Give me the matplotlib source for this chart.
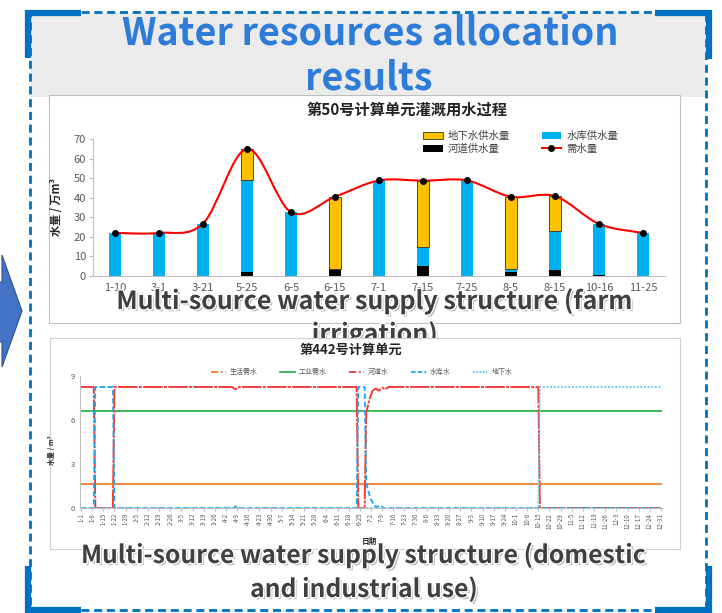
"""
Slide recreation: water resources allocation results
(irrigation supply of unit 50, daily domestic/industrial supply of unit 442).
"""

import numpy as np
import pandas as pd
import matplotlib
matplotlib.use('Agg')
import matplotlib.pyplot as plt
import matplotlib.patheffects as pe
from matplotlib.patches import Rectangle, Polygon, Patch, PathPatch
from matplotlib.lines import Line2D
from matplotlib.path import Path

plt.rcParams['font.family'] = ['Noto Sans CJK SC', 'DejaVu Sans']

# --- chart 1: irrigation water of unit 50 (万m3) ---
periods = ['1-10', '3-1', '3-21', '5-25', '6-5', '6-15', '7-1',
           '7-15', '7-25', '8-5', '8-15', '10-16', '11-25']
river_supply = [0, 0, 0, 2.2, 0, 3.5, 0, 5.0, 0, 2.2, 2.9, 0.4, 0]
reservoir_supply = [22, 22, 26.6, 46.6, 32.6, 0, 48.7, 9.7, 48.7, 1.2, 20.3, 26.2, 22]
ground_supply = [0, 0, 0, 16.2, 0, 37.0, 0, 34.0, 0, 37.1, 17.6, 0, 0]
demand = [22, 22, 26.8, 65, 32.6, 40.5, 48.8, 48.7, 48.8, 40.5, 40.8, 26.6, 22]

# --- chart 2: daily supply of unit 442 (m3), breakpoints of each series ---
demand_dates = ['1-1', '12-31']
domestic_demand = [1.62, 1.62]
industrial_demand = [6.6, 6.6]

river_dates = ['1-1', '1-9', '1-10', '1-21', '1-22', '4-6', '4-7', '4-8', '4-9', '4-10',
               '6-23', '6-24', '6-28', '6-29', '7-1', '7-3', '7-5', '7-7', '7-9',
               '7-11', '7-13', '10-15', '10-16', '12-31']
river_water = [8.25, 8.25, 0, 0, 8.25, 8.25, 8.15, 8.1, 8.15, 8.25,
               8.25, 0, 0, 6.5, 7.4, 8.0, 8.15, 8.0, 8.2,
               8.1, 8.25, 8.25, 0, 0]

reservoir_dates = ['1-1', '1-9', '1-10', '1-21', '1-22', '4-7', '4-8', '4-9',
                   '6-23', '6-24', '6-28', '6-29', '6-30', '7-1', '7-2', '7-3',
                   '7-4', '7-5', '7-6', '7-7', '7-8', '7-9', '7-10', '12-31']
reservoir_water = [0, 0, 8.25, 8.25, 0, 0, 0.12, 0,
                   0, 8.25, 8.25, 1.7, 1.3, 0.9, 0.6, 0.35,
                   0.2, 0.1, 0.05, 0.18, 0.15, 0.05, 0, 0]

ground_dates = ['1-1', '10-15', '10-16', '12-31']
ground_water = [0, 0, 8.25, 8.25]

tick_dates = pd.date_range('2015-01-01', '2015-12-31', freq='7D')
tick_labels = [f'{d.month}-{d.day}' for d in tick_dates]

W, H = 722, 613
FRAME = '#0070C0'


def box(x0, y0, x1, y1):
    # pixel box (y pointing down) -> figure-fraction rect
    return [x0 / W, 1 - y1 / H, (x1 - x0) / W, (y1 - y0) / H]


def day(s):
    m, d = map(int, s.split('-'))
    return pd.Timestamp(2015, m, d).dayofyear - 1


def smooth_path(xs, ys):
    # Excel-like smoothed line: Catmull-Rom segments as cubic beziers
    pts = np.column_stack([xs, ys]).astype(float)
    n = len(pts)
    verts, codes = [pts[0]], [Path.MOVETO]
    for i in range(n - 1):
        p0 = pts[max(i - 1, 0)]
        p1, p2 = pts[i], pts[i + 1]
        p3 = pts[min(i + 2, n - 1)]
        verts += [p1 + (p2 - p0) / 6, p2 - (p3 - p1) / 6, p2]
        codes += [Path.CURVE4] * 3
    return Path(verts, codes)


fig = plt.figure(figsize=(W / 100, H / 100), dpi=100)

# slide background, frame, arrow
bg = fig.add_axes([0, 0, 1, 1])
bg.set_xlim(0, W)
bg.set_ylim(H, 0)
bg.axis('off')
bg.add_patch(Rectangle((31, 13), 674, 84, color='#EBEBEB', lw=0))
bg.add_patch(Rectangle((49, 95), 631, 228, facecolor='white', edgecolor='#BFBFBF', lw=0.8))
bg.plot([30, 706, 706, 30, 30], [12, 12, 610, 610, 12], color=FRAME, lw=2, ls=(0, (2.9, 1.7)))
brackets = [([27.5, 27.5, 81], [58, 12.5, 12.5]),
            ([655, 708.5, 708.5], [12.5, 12.5, 59]),
            ([27.5, 27.5, 81], [566, 609.5, 609.5]),
            ([655, 708.5, 708.5], [609.5, 609.5, 566])]
for bx, by in brackets:
    bg.plot(bx, by, color=FRAME, lw=4.5, solid_joinstyle='miter', solid_capstyle='butt')
bg.add_patch(Polygon([(-10, 282), (2, 282), (2, 255), (22, 311), (2, 367), (2, 342), (-10, 342)],
                     closed=True, facecolor='#4472C4', edgecolor='#2F528F', lw=0.8))
bg.text(370, 46, 'Water resources allocation', ha='center', va='baseline',
        fontsize=27.2, fontweight='bold', color='#2E7CD9')
bg.text(369, 89, 'results', ha='center', va='baseline',
        fontsize=27.2, fontweight='bold', color='#2E7CD9')

# chart 1: stacked supply bars + smoothed demand line
ax1 = fig.add_axes(box(93, 139, 665, 276))
ax1.patch.set_alpha(0)
x = np.arange(len(periods))
river = np.array(river_supply)
reservoir = np.array(reservoir_supply)
ground = np.array(ground_supply)
ax1.bar(x, river, 0.26, color='black', zorder=2)
ax1.bar(x, reservoir, 0.26, bottom=river, color='#00B0F0', zorder=2)
ax1.bar(x, ground, 0.26, bottom=river + reservoir, color='#FFC000', edgecolor='#333333',
        linewidth=[0.6 if g > 0 else 0 for g in ground], zorder=2)
ax1.add_patch(PathPatch(smooth_path(x, demand), fill=False, edgecolor='#FF0000', lw=1.5, zorder=3))
ax1.plot(x, demand, 'o', color='black', ms=4, zorder=4, clip_on=False)
ax1.set_xlim(-0.5, len(periods) - 0.5)
ax1.set_ylim(0, 70)
ax1.set_yticks(range(0, 71, 10))
ax1.set_xticks(x, periods)
ax1.tick_params(axis='y', labelsize=8, labelcolor='#595959', color='#BFBFBF', length=3, pad=2)
ax1.tick_params(axis='x', labelsize=8, labelcolor='#595959', length=0, pad=5)
for s in ['top', 'right']:
    ax1.spines[s].set_visible(False)
for s in ['left', 'bottom']:
    ax1.spines[s].set_color('#BFBFBF')
ax1.set_ylabel('水量 / 万m³', fontsize=8, fontweight='bold', color='#262626')
ax1.yaxis.set_label_coords(-0.052, 0.5)

handles1 = [Patch(facecolor='#FFC000', edgecolor='#333333', lw=0.6),
            Patch(facecolor='black'),
            Patch(facecolor='#00B0F0'),
            Line2D([], [], color='#FF0000', lw=1.5, marker='o', mfc='black', mec='black', ms=4)]
ax1.legend(handles1, ['地下水供水量', '河道供水量', '水库供水量', '需水量'], ncol=2,
           loc='upper left', bbox_to_anchor=(423 / W, 1 - 131 / H), bbox_transform=fig.transFigure,
           frameon=False, fontsize=7.5, handlelength=1.9, handleheight=0.7, handletextpad=0.5,
           columnspacing=3.0, labelspacing=0.25, borderpad=0, borderaxespad=0, labelcolor='#404040')
fig.text(407 / W, 1 - 110 / H, '第50号计算单元灌溉用水过程', ha='center', va='center',
         fontsize=11, fontweight='bold', color='#222222')

cap_fx = [pe.SimplePatchShadow(offset=(1.5, -1.5), shadow_rgbFace='#7f7f7f', alpha=0.55),
          pe.withStroke(linewidth=2, foreground='white')]
cap_kw = dict(ha='center', va='baseline', fontweight='bold', color='#404040', path_effects=cap_fx)
fig.text(375 / W, 1 - 309 / H, 'Multi-source water supply structure (farm',
         fontsize=18, zorder=3, **cap_kw)
fig.text(375 / W, 1 - 342 / H, 'irrigation)', fontsize=18, zorder=3, **cap_kw)

# chart 2: daily supply by source
panel2 = fig.add_axes(box(50, 338, 680, 549), zorder=5)
panel2.set_xticks([])
panel2.set_yticks([])
for s in panel2.spines.values():
    s.set_color('#D0D0D0')
    s.set_linewidth(0.8)

ax2 = fig.add_axes(box(80, 376, 662, 508), zorder=6)
ax2.patch.set_alpha(0)
c_dom, c_ind, c_riv, c_res, c_gw = '#F08030', '#2DB34A', '#F23C3C', '#1AA7E8', '#5BC8F5'
ax2.plot([day(d) for d in demand_dates], domestic_demand, color=c_dom, lw=1.3)
ax2.plot([day(d) for d in demand_dates], industrial_demand, color=c_ind, lw=1.3)
ax2.plot([day(d) for d in river_dates], river_water, color=c_riv, lw=1.4, ls=(0, (10, 0.7, 1.5, 0.7)))
ax2.plot([day(d) for d in reservoir_dates], reservoir_water, color=c_res, lw=1.3, ls=(0, (3, 1.5)))
ax2.plot([day(d) for d in ground_dates], ground_water, color=c_gw, lw=1.3, ls=(0, (1, 1)))
ax2.set_xlim(-0.63, 364.63)
ax2.set_ylim(0, 9)
ax2.set_yticks([0, 3, 6, 9])
ax2.set_xticks([day(f'{d.month}-{d.day}') for d in tick_dates], tick_labels, rotation=90)
ax2.tick_params(axis='x', labelsize=4.4, labelcolor='#595959', color='#BFBFBF', length=2, pad=1.5)
ax2.tick_params(axis='y', labelsize=5.5, labelcolor='#595959', length=0, pad=4)
for s in ['top', 'right']:
    ax2.spines[s].set_visible(False)
for s in ['left', 'bottom']:
    ax2.spines[s].set_color('#BFBFBF')
ax2.set_ylabel('水量 / m³', fontsize=5, fontweight='bold', color='#262626')
ax2.yaxis.set_label_coords(-0.043, 0.44)
ax2.set_xlabel('日期', fontsize=5.5, fontweight='bold', color='#262626')
ax2.xaxis.set_label_coords(0.498, -0.22)

handles2 = [Line2D([], [], color=c_dom, lw=1.3, ls=(0, (4, 1.5, 1, 1.5))),
            Line2D([], [], color=c_ind, lw=1.3),
            Line2D([], [], color=c_riv, lw=1.3, ls=(0, (4, 1.5, 1, 1.5))),
            Line2D([], [], color=c_res, lw=1.3, ls=(0, (2.5, 1.2))),
            Line2D([], [], color=c_gw, lw=1.3, ls=(0, (1, 0.8)))]
ax2.legend(handles2, ['生活需水', '工业需水', '河道水', '水库水', '地下水'], ncol=5,
           loc='center left', bbox_to_anchor=(211 / W, 1 - 372 / H), bbox_transform=fig.transFigure,
           frameon=False, fontsize=5, handlelength=2.1, handletextpad=0.6, columnspacing=3.2,
           borderpad=0, borderaxespad=0, labelcolor='#595959')
fig.text(351 / W, 1 - 350 / H, '第442号计算单元', ha='center', va='center',
         fontsize=9.5, fontweight='bold', color='#222222', zorder=7)

fig.text(364 / W, 1 - 563 / H, 'Multi-source water supply structure (domestic',
         fontsize=17.8, zorder=7, **cap_kw)
fig.text(364 / W, 1 - 597 / H, 'and industrial use)', fontsize=17.8, zorder=7, **cap_kw)

fig.savefig('out.png', dpi=100)
